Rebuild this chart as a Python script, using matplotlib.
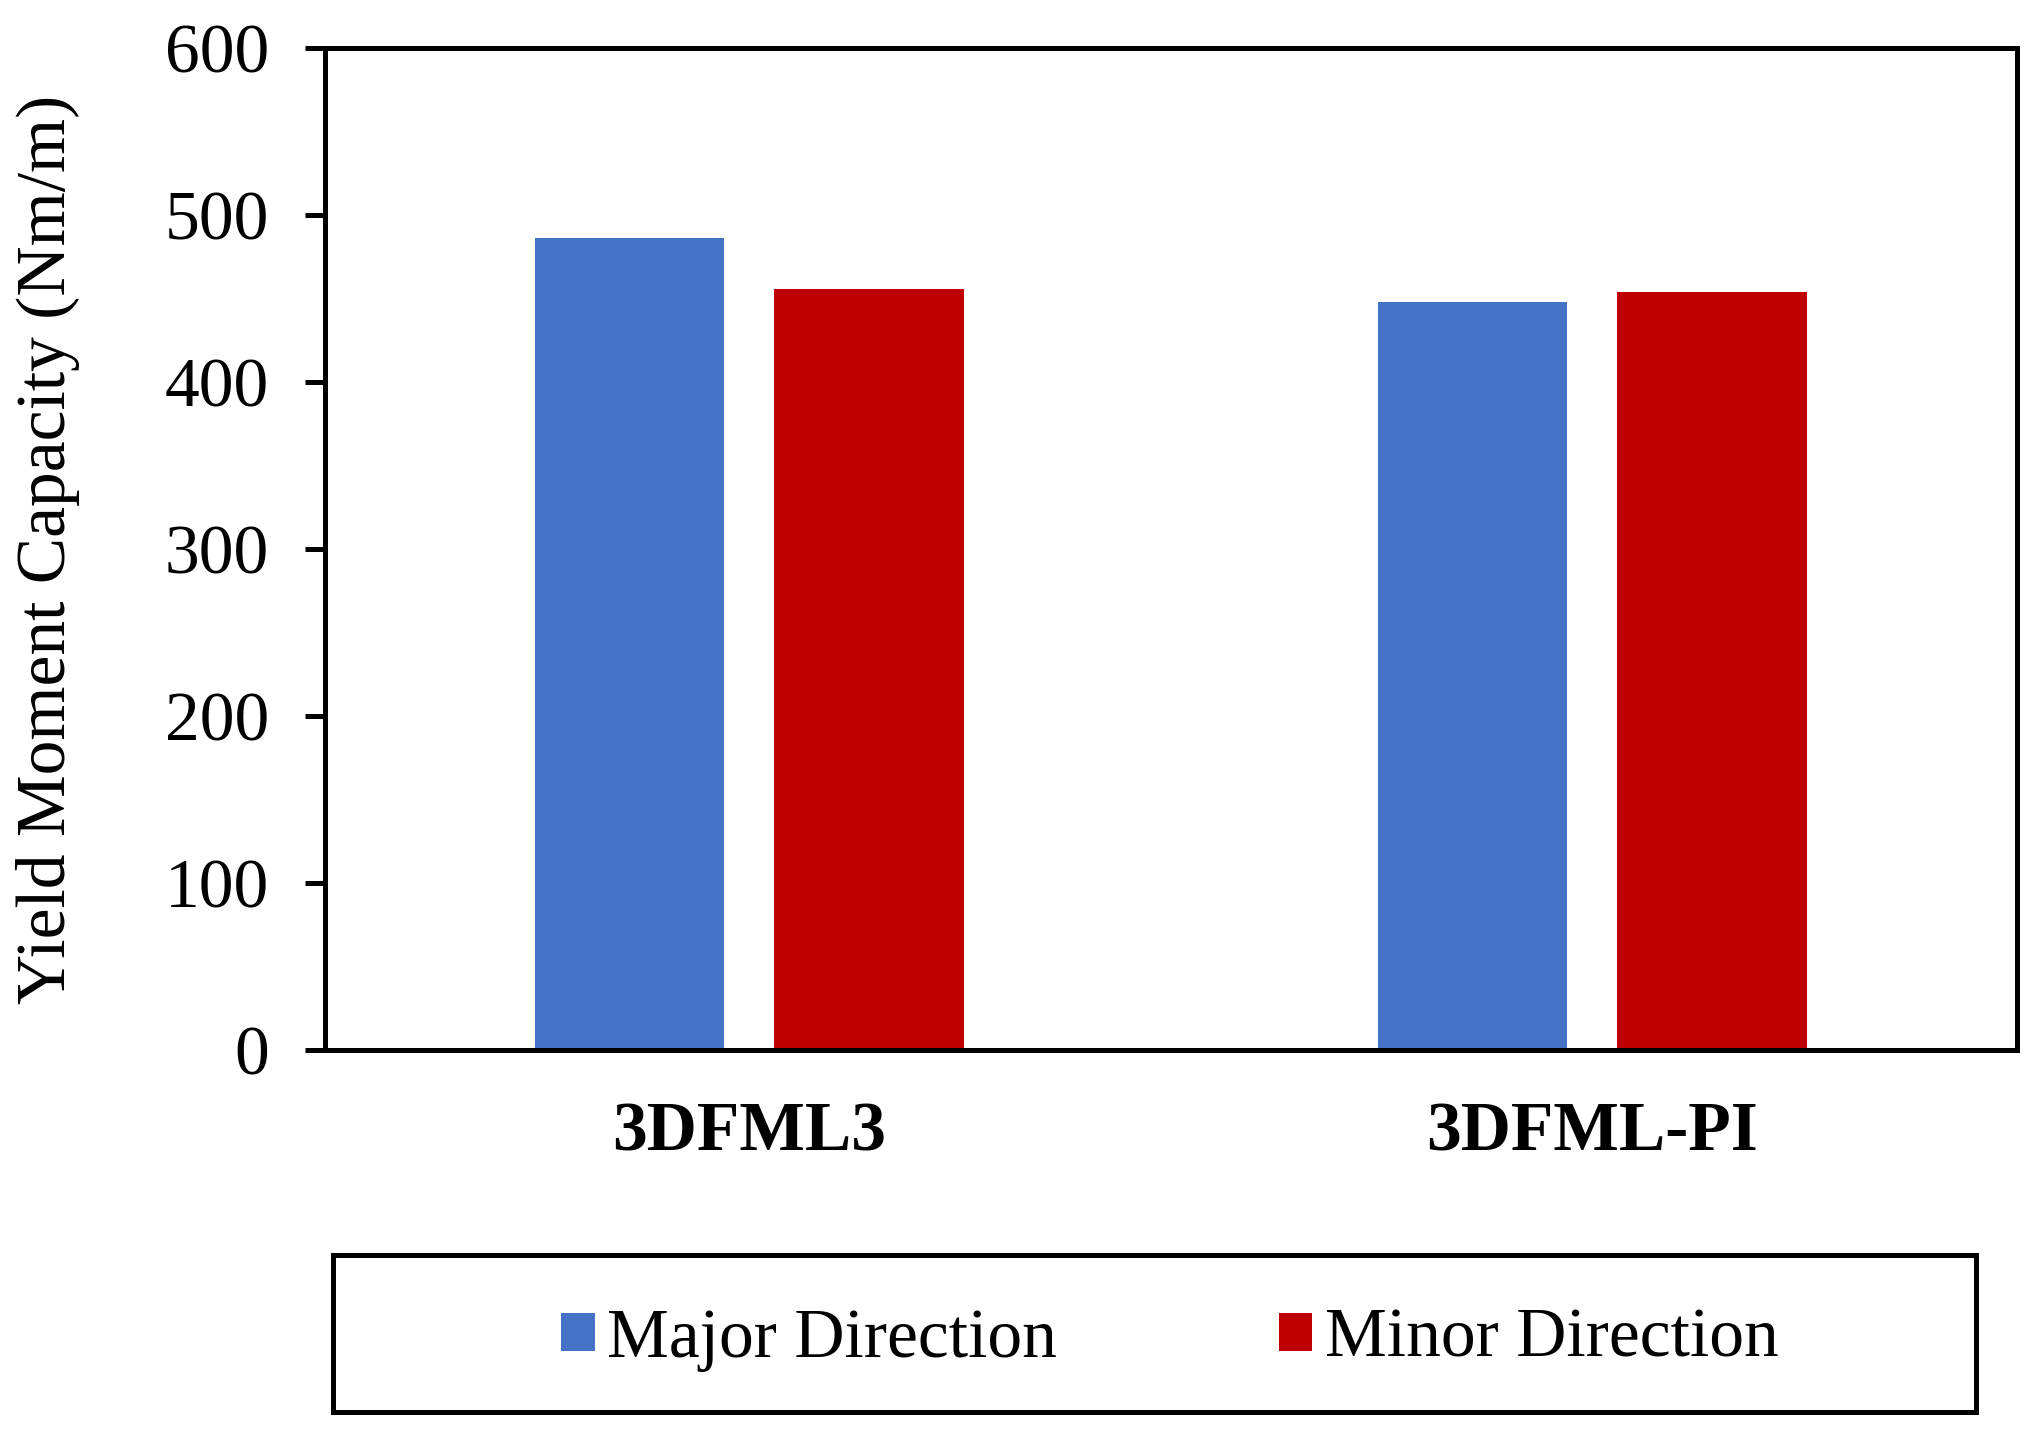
import matplotlib.pyplot as plt
import numpy as np
from matplotlib.patches import Rectangle

# Data
categories = ['3DFML3', '3DFML-PI']
major_direction = [486, 448]
minor_direction = [456, 454]
y_ticks = [0, 100, 200, 300, 400, 500, 600]

plt.rcParams['font.family'] = ['Liberation Serif', 'DejaVu Serif']

fig = plt.figure(figsize=(20.33, 14.30), dpi=100)
ax = fig.add_axes([0.1599, 0.2657, 0.8322, 0.7007])

x = np.arange(len(categories))
width = 0.225
offset = 0.142
ax.bar(x - offset, major_direction, width, color='#4472C4', label='Major Direction')
ax.bar(x + offset, minor_direction, width, color='#C00000', label='Minor Direction')

ax.set_xlim(-0.503, 1.504)
ax.set_ylim(0, 600)
ax.set_yticks(y_ticks)
ax.set_xticks(x)
ax.set_xticklabels(categories, fontsize=50, fontweight='bold')
ax.tick_params(axis='y', labelsize=50, length=14.4, width=3.6, pad=26, direction='out')
ax.tick_params(axis='x', length=0, pad=37)

for spine in ax.spines.values():
    spine.set_linewidth(3.6)
    spine.set_color('black')

ax.set_ylabel('Yield Moment Capacity (Nm/m)', fontsize=50)
ax.yaxis.set_label_coords(-0.145, 0.5)

# Legend below the plot, inside a framed box
handles, labels = ax.get_legend_handles_labels()
fig.legend(handles, labels, loc='center', bbox_to_anchor=(0.5755, 0.063),
           ncol=2, frameon=False, fontsize=50, handlelength=0.48, handleheight=0.48,
           handletextpad=0.18, columnspacing=3.2)
fig.patches.append(Rectangle((0.1638, 0.0126), 0.808, 0.1098, transform=fig.transFigure,
                             fill=False, edgecolor='black', linewidth=3.6))

plt.savefig('out.png', dpi=100)
plt.close(fig)
